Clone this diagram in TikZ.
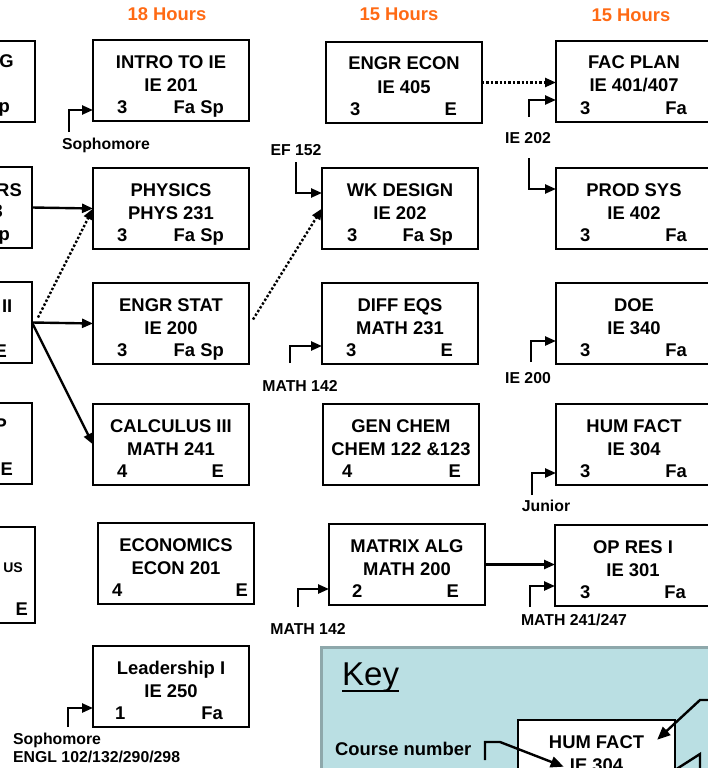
\documentclass[tikz,border=0pt]{standalone}
\usepackage{fontspec}
\setmainfont{Liberation Sans}
\usetikzlibrary{arrows.meta, positioning, calc}
\definecolor{hrsorange}{RGB}{255,106,20}
\definecolor{keyfill}{RGB}{186,223,227}
\definecolor{keyedge}{RGB}{142,168,171}

% name, left, top, title, number, credits, term, left inset, right inset
\newcommand{\course}[9]{%
  \node[course] (#1) at (#2,#3) {};
  \node[ctxt, anchor=base] (#1-t) at ($(#1.north)+(0,28)$) {#4};
  \node[ctxt, anchor=base] (#1-n) at ($(#1.north)+(0,51)$) {#5};
  \node[ctxt, anchor=base west] (#1-c) at ($(#1.north west)+(#8,73)$) {#6};
  \node[ctxt, anchor=base east] (#1-s) at ($(#1.north east)+(-#9,73)$) {#7};
}

\begin{document}
\begin{tikzpicture}[
  x=1pt, y=-1pt,
  course/.style={draw, line width=2.7pt, minimum width=156pt, minimum height=81pt,
                 anchor=north west, inner sep=0pt, outer sep=0pt},
  ctxt/.style={font=\fontsize{18.4}{20}\selectfont\bfseries, inner sep=0pt},
  lbl/.style={font=\fontsize{15.8}{18}\selectfont\bfseries, inner sep=0pt},
  hrs/.style={font=\fontsize{18.4}{20}\selectfont\bfseries, text=hrsorange, inner sep=0pt},
  arr/.style={-{Triangle[length=11pt,width=9pt]}, line width=2.4pt},
  dotarr/.style={arr, dotted},
  keyarr/.style={-{Triangle[length=13pt,width=11pt]}, line width=2.4pt},
]
\useasboundingbox (0,0) rectangle (707,768);

%% ---- semester headings ----
\node[hrs, anchor=base] (hrs1) at (167,21) {18 Hours};
\node[hrs, anchor=base] (hrs2) at (399,21) {15 Hours};
\node[hrs, anchor=base] (hrs3) at (631,22) {15 Hours};

%% ---- Column 0: cut off at the left edge ----
\node[course] (c0a) at (-121,41) {};
\node[ctxt, anchor=base east] (c0a-t) at (14,67) {G};
\node[ctxt, anchor=base east] (c0a-s) at (10,112) {p};

\node[course] (c0b) at (-124,167) {};
\node[ctxt, anchor=base east] (c0b-t) at (22,196) {RS};
\node[ctxt, anchor=base east] (c0b-n) at (3,217) {3};
\node[ctxt, anchor=base east] (c0b-s) at (10,240) {p};

\node[course] (c0c) at (-124,282) {};
\node[ctxt, anchor=base east] (c0c-t) at (12.5,312) {II};
\node[ctxt, anchor=base east] (c0c-s) at (7,357) {E};

\node[course] (c0d) at (-124,403) {};
\node[ctxt, anchor=base east] (c0d-t) at (7,431) {P};
\node[ctxt, anchor=base east] (c0d-s) at (13,475) {E};

\node[course, minimum height=96pt] (c0e) at (-121,527) {};
\node[ctxt, anchor=base east, font=\fontsize{14}{16}\selectfont\bfseries] (c0e-n) at (23,572) {US};
\node[ctxt, anchor=base east] (c0e-s) at (28,615) {E};

%% ---- Column 1 ----
\course{ie201}{93}{40}{INTRO TO IE}{IE 201}{3}{Fa Sp}{24}{25}
\course{phys231}{93}{168}{PHYSICS}{PHYS 231}{3}{Fa Sp}{24}{25}
\course{ie200}{93}{283}{ENGR STAT}{IE 200}{3}{Fa Sp}{24}{25}
\course{math241}{93}{404}{CALCULUS III}{MATH 241}{4}{E}{24}{25}
\course{econ201}{98}{523}{ECONOMICS}{ECON 201}{4}{E}{14}{6}
\course{ie250}{93}{646}{Leadership I}{IE 250}{1}{Fa}{22}{26}

%% ---- Column 2 ----
\course{ie405}{326}{42}{ENGR ECON}{IE 405}{3}{E}{24}{25}
\course{ie202}{322}{168}{WK DESIGN}{IE 202}{3}{Fa Sp}{25}{25}
\course{math231}{322}{283}{DIFF EQS}{MATH 231}{3}{E}{24}{25}
\course{chem122}{323}{404}{GEN CHEM}{CHEM 122 \&123}{4}{E}{19}{18}
\course{math200}{329}{524}{MATRIX ALG}{MATH 200}{2}{E}{23}{26}

%% ---- Column 3 ----
\course{ie401}{556}{41}{FAC PLAN}{IE 401/407}{3}{Fa}{24}{25}
\course{ie402}{556}{168}{PROD SYS}{IE 402}{3}{Fa}{24}{25}
\course{ie340}{556}{283}{DOE}{IE 340}{3}{Fa}{24}{25}
\course{ie304}{556}{404}{HUM FACT}{IE 304}{3}{Fa}{24}{25}
\course{ie301}{555}{525}{OP RES I}{IE 301}{3}{Fa}{25}{25}

%% ---- prerequisite labels ----
\node[lbl, anchor=base] (soph1) at (106,149) {Sophomore};
\node[lbl, anchor=base] (ef152) at (296,155) {EF 152};
\node[lbl, anchor=base] (m142a) at (300,391) {MATH 142};
\node[lbl, anchor=base] (pre202) at (528,143) {IE 202};
\node[lbl, anchor=base] (pre200) at (528,383) {IE 200};
\node[lbl, anchor=base] (junior) at (546,511) {Junior};
\node[lbl, anchor=base] (m241) at (574,625) {MATH 241/247};
\node[lbl, anchor=base] (m142b) at (308,634) {MATH 142};
\node[lbl, anchor=base west] (soph2) at (13,744) {Sophomore};
\node[lbl, anchor=base west] (engl) at (13,762) {ENGL 102/132/290/298};

%% ---- prerequisite arrows ----
\draw[arr] (c0b.east) -- (phys231.west);
\draw[arr] (c0c.east) -- (ie200.west);
\draw[arr] (c0c.east) -- (math241.west);
\draw[dotarr] ($(c0c.east)+(6,-5)$) -- (phys231.west);
\draw[dotarr] ($(ie200.east)+(4,-4)$) -- (ie202.west);
\draw[dotarr] (ie405.east) -- (ie401.west |- ie405.east);
\draw[arr] (math200.east) -- (ie301.west |- math200.east);

\coordinate (s1) at (69,132);
\coordinate (s2) at (296,162);
\coordinate (s3) at (290,363);
\coordinate (s4) at (529,117);
\coordinate (s5) at (529,158);
\coordinate (s6) at (531,362);
\coordinate (s7) at (532,495);
\coordinate (s8) at (530,607);
\coordinate (s9) at (298,607);
\coordinate (s10) at (68,727);

\draw[arr] (s1) |- ($(ie201.north west)+(0,70)$);
\draw[arr] (s2) |- ($(ie202.north west)+(0,25)$);
\draw[arr] (s3) |- ($(math231.north west)+(0,63)$);
\draw[arr] (s4) |- ($(ie401.north west)+(0,59)$);
\draw[arr] (s5) |- ($(ie402.north west)+(0,21)$);
\draw[arr] (s6) |- ($(ie340.north west)+(0,58)$);
\draw[arr] (s7) |- ($(ie304.north west)+(0,69)$);
\draw[arr] (s8) |- ($(ie301.north west)+(0,61)$);
\draw[arr] (s9) |- ($(math200.north west)+(0,65)$);
\draw[arr] (s10) |- ($(ie250.north west)+(0,62)$);

%% ---- Key ----
\draw[draw=keyedge, fill=keyfill, line width=3pt] (321,647) rectangle (740,800);
\node[anchor=base west, font=\fontsize{33}{36}\selectfont, inner sep=0pt] (keyttl) at (342,685) {Key};
\draw[line width=2pt] ($(keyttl.base west)+(0,6)$) -- ($(keyttl.base east)+(0,6)$);
\node[ctxt, anchor=base west] (cnum) at (335,755) {Course number};

\node[course, fill=white, minimum width=157pt] (keyc) at (518,720) {};
\node[ctxt, anchor=base] (keyc-t) at ($(keyc.north)+(0,28)$) {HUM FACT};
\node[ctxt, anchor=base] (keyc-n) at ($(keyc.north)+(0,51)$) {IE 304};

\coordinate (kb1) at (485,760);
\coordinate (kb2) at (500,742);
\draw[keyarr] (kb1) |- (kb2) -- ($(keyc-n.west)+(-6,2)$);
\coordinate (ka1) at (712,700);
\coordinate (ka2) at (700,700);
\draw[keyarr] (ka1) -- (ka2) -- ($(keyc-t.east)+(13,-2)$);
\coordinate (kc1) at (675,770);
\coordinate (kc2) at (700,754);
\coordinate (kc3) at (700,770);
\draw[line width=2.4pt] (kc1) -- (kc2) -- (kc3);

\end{tikzpicture}
\end{document}
